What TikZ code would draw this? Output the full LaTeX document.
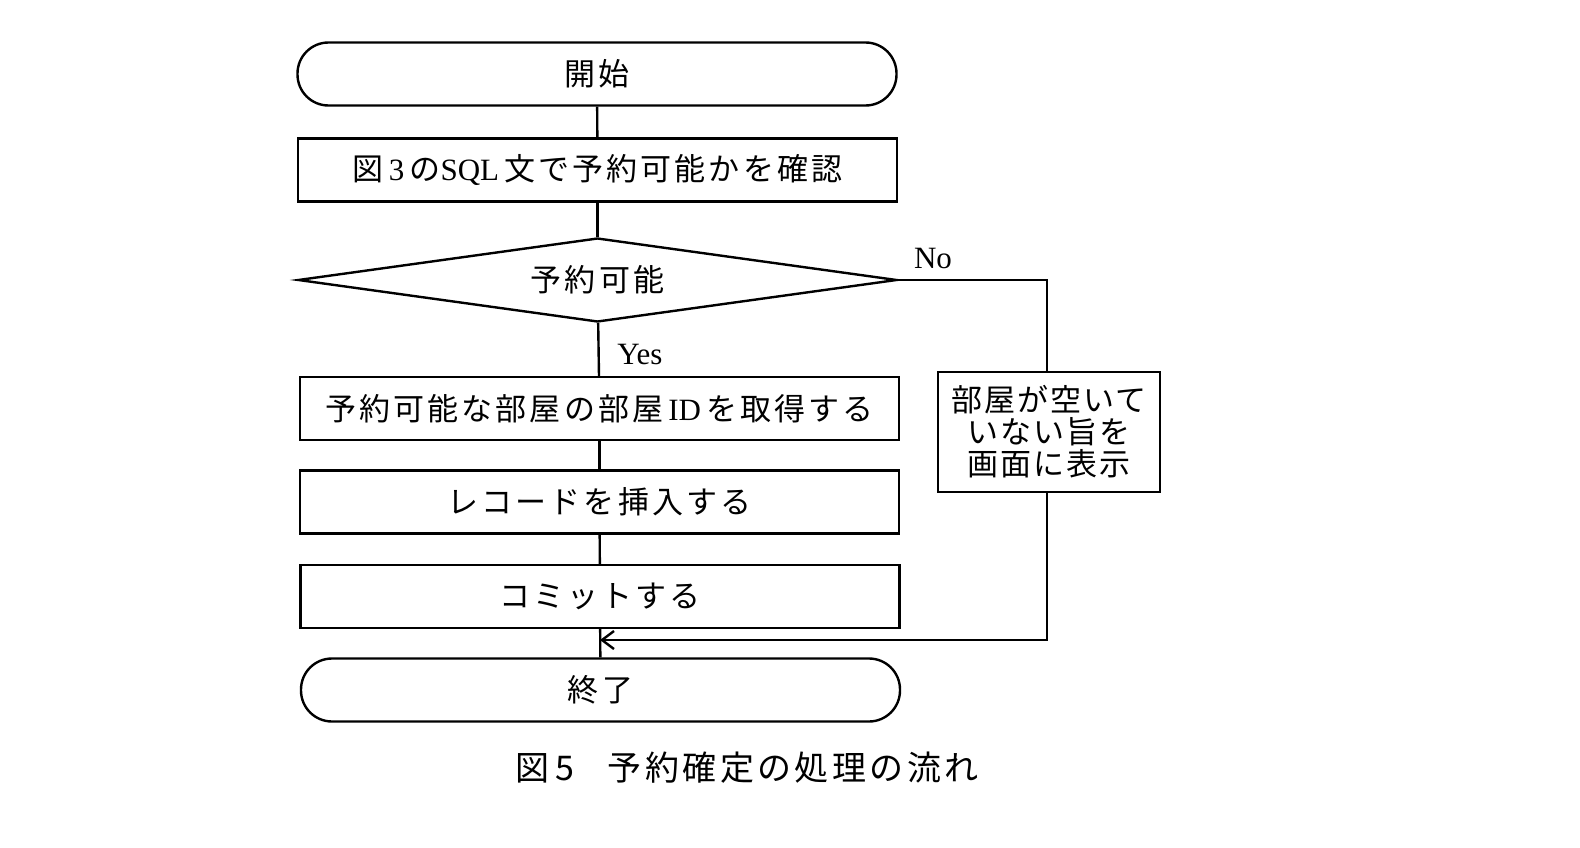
\documentclass[tikz,border=0pt]{standalone}
\usepackage{fontspec}
\setmainfont{Liberation Serif}
\newfontfamily\jp{Noto Sans CJK JP}[LetterSpace=10]
\newfontfamily\jpc{Noto Sans CJK JP}[LetterSpace=6]
\usetikzlibrary{shapes.geometric,arrows.meta}
\begin{document}
\begin{tikzpicture}[x=1pt,y=-1pt,line width=2.4pt,
  box/.style={draw,minimum width=599pt,minimum height=63pt,font=\fontsize{31}{34}\selectfont,inner sep=0pt},
  term/.style={box,rounded corners=31pt},
  lbl/.style={font=\fontsize{31}{34}\selectfont,inner sep=0pt}]
\useasboundingbox (0,0) rectangle (1580,848);
\node[term] (start) at (597,74) {\jp 開始};
\node[box] (b1) at (597.5,170) {{\jp 図}\,3\,{\jp の}SQL\,{\jp 文で予約可能かを確認}};
\node[draw,diamond,aspect=7.1,minimum width=599pt,minimum height=84pt,inner sep=0pt,font=\fontsize{31}{34}\selectfont] (d) at (597.5,280) {\jp 予約可能};
\node[box] (b2) at (599.5,408.5) {\jp 予約可能な部屋の部屋\,\rmfamily ID\,\jp を取得する};
\node[box] (b3) at (599.5,502) {\jp レコードを挿入する};
\node[box] (b4) at (600,596.5) {\jp コミットする};
\node[term] (end) at (600.5,690) {\jp 終了};
\node[draw,minimum width=222pt,minimum height=120pt,inner sep=0pt,align=center,font=\fontsize{31}{32}\selectfont] (side) at (1049,432) {\jpc 部屋が空いて\\ \jpc いない旨を\\ \jpc 画面に表示};
\node[lbl] (no) at (933,259) {No};
\node[lbl] (yes) at (640,355) {Yes};
\node[lbl,font=\fontsize{34}{36}\selectfont] (cap) at (747,768) {\jp 図\,5\quad 予約確定の処理の流れ};
\coordinate (c1) at (1047,280);
\coordinate (c2) at (1047,640);
\coordinate (m) at (600,640);
\draw (start) -- (b1);
\draw (b1) -- (d);
\draw (d) -- (b2);
\draw (b2) -- (b3);
\draw (b3) -- (b4);
\draw (b4) -- (end);
\draw (d.east) -- (c1) -- (side.north -| c1);
\draw[-{Straight Barb[length=12pt,width=18pt]}] (side.south -| c1) -- (c2) -- (m);
\end{tikzpicture}
\end{document}
